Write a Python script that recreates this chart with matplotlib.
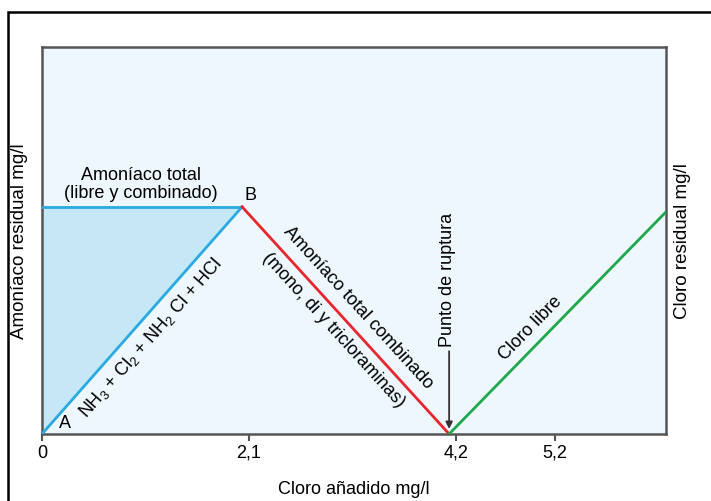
import numpy as np
import matplotlib
matplotlib.use("Agg")
import matplotlib.pyplot as plt
from matplotlib.patches import Rectangle

plt.rcParams['font.family'] = ['Liberation Sans', 'DejaVu Sans']
plt.rcParams['mathtext.fontset'] = 'custom'
plt.rcParams['mathtext.rm'] = 'Liberation Sans'
plt.rcParams['mathtext.default'] = 'regular'

# --- data (schematic break-point chlorination curve) ---
x_A, y_A = 0.0, 0.0          # point A
x_B, y_B = 2.03, 5.87        # point B (peak of total ammonia)
x_break, y_break = 4.13, 0.0 # break point
x_end, y_end = 6.33, 5.74    # end of free chlorine line

x_ticks = [0, 2.1, 4.2, 5.2]
x_tick_labels = ['0', '2,1', '4,2', '5,2']

c_blue = '#2aaae2'
c_fill = '#c6e7f6'
c_red = '#e8262d'
c_green = '#1ea84c'
c_bg = '#eef7fd'
c_axis = '#555555'
FS = 13

fig = plt.figure(figsize=(7.11, 5.02), dpi=100)
ax = fig.add_axes([42/711, 1-435/502, (666-42)/711, (435-48)/502])
ax.set_facecolor(c_bg)
ax.set_xlim(0, 6.33)
ax.set_ylim(0, 10)

# filled triangle
ax.fill([x_A, x_B, x_A], [y_A, y_B, y_B], color=c_fill, lw=0, zorder=1)
ax.plot([x_A, x_B], [y_B, y_B], color=c_blue, lw=2, zorder=3)
ax.plot([x_A, x_B], [y_A, y_B], color=c_blue, lw=2, zorder=3)
ax.plot([x_B, x_break], [y_B, y_break], color=c_red, lw=2, zorder=3)
ax.plot([x_break, x_end], [y_break, y_end], color=c_green, lw=2, zorder=3)

for s in ax.spines.values():
    s.set_color(c_axis)
    s.set_linewidth(1.8)
ax.set_yticks([])
ax.set_xticks(x_ticks)
ax.set_xticklabels(x_tick_labels, fontsize=FS)
ax.tick_params(axis='x', direction='out', length=5, width=1.5, color=c_axis, pad=2)

ax.set_xlabel('Cloro añadido mg/l', fontsize=FS, labelpad=14)
ax.set_ylabel('Amoníaco residual mg/l', fontsize=13.5, labelpad=10)
ax2 = ax.twinx()
ax2.set_ylim(0, 10)
ax2.set_yticks([])
ax2.set_ylabel('Cloro residual mg/l', fontsize=13.5, labelpad=6)
for s in ax2.spines.values():
    s.set_visible(False)

def seg_angle(p, q):
    a = ax.transData.transform(p)
    b = ax.transData.transform(q)
    return np.degrees(np.arctan2(b[1]-a[1], b[0]-a[0]))

ang_blue = seg_angle((x_A, y_A), (x_B, y_B))
ang_red = seg_angle((x_B, y_B), (x_break, y_break))
ang_green = seg_angle((x_break, y_break), (x_end, y_end))

ax.text(1.005, 6.47, 'Amoníaco total\n(libre y combinado)', fontsize=FS,
        ha='center', va='center', multialignment='center', linespacing=1.1, zorder=5)
ax.text(2.11, 6.18, 'B', fontsize=FS, ha='center', va='center', zorder=5)
ax.text(0.23, 0.31, 'A', fontsize=FS, ha='center', va='center', zorder=5)
ax.text(1.10, 2.51, r'NH$_3$ + Cl$_2$ + NH$_2$ Cl + HCl', fontsize=FS,
        ha='center', va='center', rotation=ang_blue, rotation_mode='anchor', zorder=5)
ax.text(3.21, 3.28, 'Amoníaco total combinado', fontsize=FS,
        ha='center', va='center', rotation=ang_red, rotation_mode='anchor', zorder=5)
ax.text(2.96, 2.71, '(mono, di y tricloraminas)', fontsize=FS,
        ha='center', va='center', rotation=ang_red, rotation_mode='anchor', zorder=5)
ax.text(4.11, 4.0, 'Punto de ruptura', fontsize=FS,
        ha='center', va='center', rotation=90, zorder=5)
ax.annotate('', xy=(4.13, 0.13), xytext=(4.13, 2.14),
            arrowprops=dict(arrowstyle='-|>', color='#333333', lw=1.3,
                            mutation_scale=10, shrinkA=0, shrinkB=0), zorder=5)
ax.text(4.96, 2.76, 'Cloro libre', fontsize=FS,
        ha='center', va='center', rotation=ang_green, rotation_mode='anchor', zorder=5)

# outer frame
fig.add_artist(Rectangle((8/711, -0.1), 1.2, 1.1 - 13/502, transform=fig.transFigure,
                         fill=False, ec='black', lw=1.8))

fig.savefig('out.png', dpi=100)
